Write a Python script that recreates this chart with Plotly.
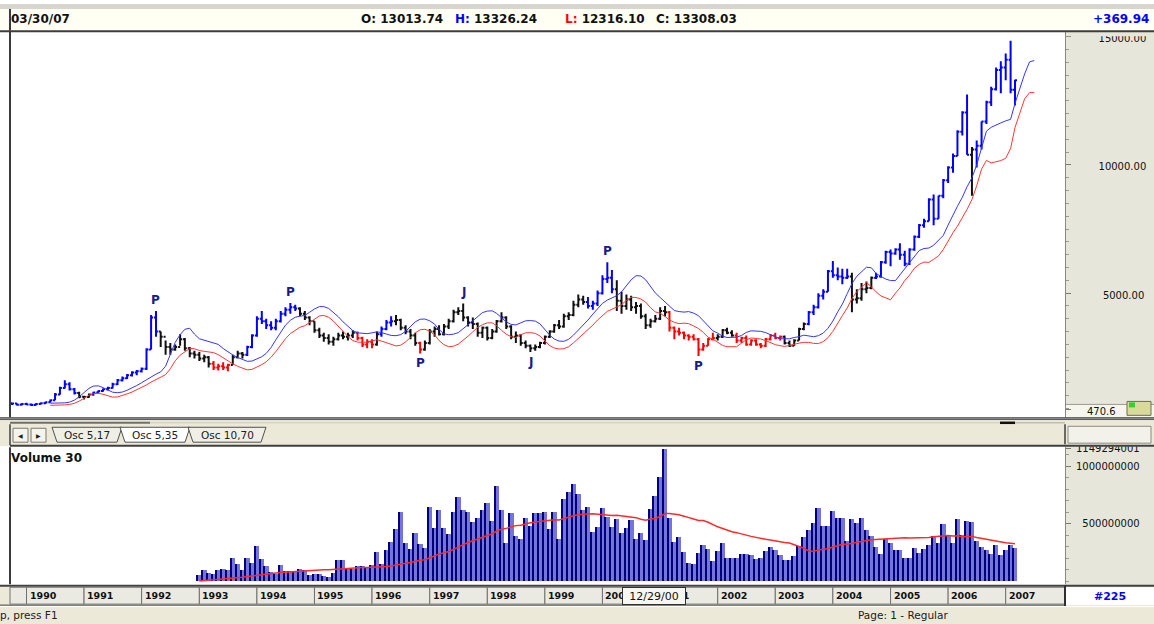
import numpy as np
import pandas as pd
import plotly.graph_objects as go

# ---------------- DATA (monthly bars, Oct 1989 - Mar 2007) ----------------
first_month = "1989-10-01"
first_open = 700

highs = [
    720, 700, 700,                                                              # 1989 Oct-Dec
    720, 690, 700, 730, 760, 850, 1100, 1350, 1600, 1520, 1300, 1150,           # 1990
    1000, 1080, 1150, 1200, 1280, 1350, 1500, 1650, 1750, 1850, 1950, 2000,     # 1991
    2100, 2850, 4150, 4300, 3500, 3150, 3050, 3000, 3400, 3250, 2900, 2750,     # 1992
    2700, 2600, 2550, 2350, 2250, 2300, 2250, 2600, 2750, 2700, 2950, 3400,     # 1993
    4100, 4300, 4000, 3900, 4000, 4300, 4450, 4620, 4550, 4450, 4300, 4100,     # 1994
    3900, 3650, 3450, 3400, 3300, 3450, 3500, 3450, 3550, 3500, 3300, 3200,     # 1995
    3200, 3500, 3700, 3950, 4100, 4150, 4000, 3750, 3600, 3450, 3100, 3150,     # 1996
    3600, 3700, 3750, 3800, 4000, 4350, 4450, 4600, 4100, 4050, 3850, 3700,     # 1997
    3700, 3600, 3950, 4250, 4100, 3750, 3500, 3400, 3150, 3000, 3000, 3100,     # 1998
    3350, 3550, 3800, 3950, 4200, 4250, 4700, 4950, 4900, 4850, 4700, 5100,     # 1999
    5700, 6200, 5900, 5500, 5050, 4950, 4900, 4650, 4600, 4200, 4000, 4150,     # 2000
    4450, 4500, 4300, 3700, 3650, 3500, 3400, 3400, 3250, 3050, 3250, 3450,     # 2001
    3400, 3600, 3650, 3550, 3450, 3300, 3350, 3200, 3200, 3050, 3250, 3400,     # 2002
    3450, 3350, 3350, 3150, 3200, 3650, 3850, 4300, 4550, 5000, 5150, 5900,     # 2003
    6250, 6000, 5950, 5950, 5800, 5150, 5400, 5450, 5650, 5800, 6250, 6650,     # 2004
    6700, 6750, 6950, 6650, 6750, 7250, 7700, 7900, 8700, 8850, 8800, 9450,     # 2005
    9950, 10450, 11350, 12100, 12750, 10700, 10950, 11700, 12500, 13050, 13800, 14050,  # 2006
    14350, 14850, 13326.24,                                                     # 2007 Jan-Mar
]
lows = [
    640, 620, 620,
    640, 600, 620, 660, 680, 730, 820, 1040, 1280, 1200, 1050, 900,
    850, 920, 1000, 1080, 1150, 1200, 1280, 1420, 1550, 1650, 1750, 1800,
    1900, 2000, 2800, 3300, 2900, 2600, 2600, 2750, 2950, 2750, 2500, 2450,
    2350, 2300, 2100, 2000, 1980, 2000, 1950, 2200, 2450, 2450, 2550, 2850,
    3300, 3800, 3600, 3550, 3550, 3850, 4100, 4200, 4300, 4100, 3950, 3750,
    3450, 3250, 3100, 3000, 2950, 3150, 3200, 3150, 3250, 3150, 2900, 2850,
    2850, 2950, 3300, 3550, 3700, 3750, 3550, 3400, 3200, 2950, 2650, 2750,
    3000, 3300, 3350, 3350, 3600, 3850, 4150, 3900, 3700, 3600, 3300, 3250,
    3150, 3200, 3450, 3850, 3600, 3200, 3050, 2950, 2850, 2700, 2750, 2850,
    3000, 3250, 3450, 3600, 3650, 3950, 4100, 4450, 4550, 4400, 4350, 4500,
    4950, 5400, 5000, 4300, 4200, 4350, 4300, 4200, 4000, 3600, 3650, 3850,
    3950, 4100, 3500, 3200, 3350, 3200, 3150, 3150, 2550, 2750, 2950, 3150,
    3150, 3250, 3400, 3300, 3050, 3050, 2950, 2950, 2950, 2850, 2900, 3150,
    3200, 3150, 3000, 2900, 2950, 3150, 3550, 3750, 4150, 4400, 4750, 5050,
    5600, 5500, 5350, 5550, 4250, 4600, 4700, 5000, 5150, 5550, 5600, 6150,
    6050, 6500, 6300, 6050, 6100, 6650, 7150, 7550, 7800, 7650, 7900, 8700,
    9300, 9700, 10350, 11150, 10400, 8800, 9900, 10600, 11600, 12300, 12900, 12800,
    13300, 12800, 12316.10,
]
closes = [
    690, 650, 680,
    660, 640, 680, 700, 740, 820, 1050, 1300, 1450, 1250, 1100, 960,
    950, 1050, 1120, 1180, 1250, 1300, 1450, 1600, 1680, 1800, 1900, 1950,
    2050, 2800, 4050, 3500, 3300, 2900, 2800, 2900, 3200, 2850, 2650, 2600,
    2450, 2500, 2250, 2100, 2150, 2100, 2200, 2500, 2650, 2600, 2900, 3350,
    4000, 3900, 3750, 3650, 3900, 4200, 4350, 4450, 4400, 4200, 4050, 3900,
    3550, 3350, 3250, 3100, 3200, 3350, 3300, 3350, 3450, 3250, 3000, 3100,
    3000, 3400, 3600, 3850, 3900, 3950, 3650, 3500, 3350, 3050, 2800, 3050,
    3500, 3600, 3400, 3700, 3900, 4250, 4300, 4050, 3850, 3800, 3450, 3650,
    3250, 3500, 3900, 4050, 3700, 3300, 3350, 3050, 2950, 2850, 2900, 3050,
    3300, 3500, 3750, 3700, 4100, 4150, 4550, 4750, 4650, 4500, 4600, 5000,
    5550, 5600, 5150, 4700, 4500, 4750, 4450, 4500, 4100, 3750, 3900, 4000,
    4300, 4250, 3650, 3500, 3450, 3350, 3300, 3200, 2800, 2950, 3200, 3250,
    3300, 3550, 3450, 3350, 3150, 3250, 3000, 3150, 3000, 2950, 3200, 3350,
    3250, 3300, 3050, 2950, 3150, 3600, 3800, 4250, 4450, 4900, 5050, 5850,
    5700, 5650, 5600, 5650, 4750, 4800, 5150, 5200, 5600, 5650, 6200, 6600,
    6550, 6700, 6500, 6150, 6700, 7200, 7650, 7800, 8650, 7900, 8800, 9400,
    9900, 10350, 11300, 12050, 10400, 10600, 10750, 11700, 12450, 12950, 13700, 13800,
    14100, 12938.09, 13308.03,
]

# bar colour state (trend highlight): run start month -> state
state_run_starts = ["1989-10", "1990-12", "1991-03", "1992-05", "1993-04", "1993-08", "1993-11",
                    "1994-10", "1995-10", "1996-02", "1996-03", "1996-06", "1996-11", "1996-12",
                    "1999-10", "2000-04", "2001-03", "2002-01", "2002-05", "2003-03", "2003-08",
                    "2004-05", "2004-10", "2006-06", "2006-07"]
state_run_values = ["up", "neutral", "up", "neutral", "down", "neutral", "up",
                    "neutral", "down", "neutral", "up", "neutral", "down", "neutral",
                    "up", "neutral", "down", "neutral", "down", "neutral", "up",
                    "neutral", "up", "neutral", "up"]

# monthly volume in millions, Jan 1993 - Mar 2007
volume_start = "1993-01-01"
volumes_m = [
    52, 95, 72, 66, 95, 109, 95, 204, 147, 95, 201, 158,          # 1993
    302, 195, 129, 80, 66, 144, 89, 86, 89, 103, 95, 52,          # 1994
    60, 60, 43, 37, 72, 187, 187, 109, 109, 129, 129, 124,        # 1995
    138, 253, 152, 267, 339, 454, 604, 330, 282, 420, 325, 290,   # 1996
    641, 460, 621, 460, 411, 598, 733, 618, 598, 512, 546, 621,   # 1997
    678, 520, 822, 621, 330, 589, 391, 368, 549, 477, 589, 589,   # 1998
    604, 454, 604, 362, 713, 770, 842, 756, 621, 647, 425, 474,   # 1999
    635, 555, 468, 535, 420, 463, 532, 362, 420, 353, 627, 741,   # 2000
    900, 1149.294001, 546, 339, 382, 253, 161, 147, 244, 310, 276, 175,  # 2001
    259, 330, 201, 201, 201, 233, 233, 224, 190, 204, 259, 296,   # 2002
    273, 224, 187, 187, 218, 302, 382, 445, 506, 632, 477, 477,   # 2003
    612, 549, 549, 348, 535, 503, 549, 440, 391, 296, 239, 362,   # 2004
    330, 267, 273, 204, 204, 290, 247, 276, 310, 388, 330, 497,   # 2005
    397, 330, 535, 397, 520, 517, 348, 296, 273, 239, 316, 224,   # 2006
    273, 310, 290,                                                # 2007
]

# pivot letters
pivot_months = ["1992-04-01", "1994-08-01", "1996-11-01", "1997-08-01", "1998-10-01", "2000-02-01", "2001-09-01"]
pivot_letters = ["P", "P", "P", "J", "J", "P", "P"]
pivot_sides = ["high", "high", "low", "high", "low", "high", "low"]

year_labels = list(range(1990, 2008))
NB = "\u00a0"
price_tick_values = [470.6, 5000, 10000, 15000]
price_tick_text = ["470.6", NB * 5 + "5000.00", NB * 3 + "\u2009" + "10000.00", NB * 3 + "\u2009" + "15000.00"]
volume_tick_values = [500e6, 1e9, 1149294001]
volume_tick_text = [NB * 2 + "500000000", "1000000000", "1149294001"]
header_date = "03/30/07"
header_o, header_h, header_l, header_c = "13013.74", "13326.24", "12316.10", "13308.03"
header_change = "+369.94"
cursor_date = "2000-12-01"
cursor_label = "12/29/00"
bar_count_label = "#225"

ma_period = 5        # displaced averages of highs / lows
ma_shift = 4
vol_ma_period = 30

# ---------------- derived series ----------------
n = len(closes)
dates = pd.date_range(first_month, periods=n, freq="MS")
opens = np.array([first_open] + closes[:-1], float)
hi_a, lo_a, cl_a = np.array(highs, float), np.array(lows, float), np.array(closes, float)
upper = pd.Series(hi_a).rolling(ma_period).mean()
lower = pd.Series(lo_a).rolling(ma_period).mean()
ma_dates = pd.date_range(first_month, periods=n + ma_shift, freq="MS")[ma_shift:]

run_idx = np.searchsorted(pd.to_datetime(state_run_starts).values, dates.values, side="right") - 1
state = np.array(state_run_values)[run_idx]

vol_dates = pd.date_range(volume_start, periods=len(volumes_m), freq="MS")
vol = pd.Series(volumes_m, index=vol_dates) * 1e6
vol_ma = vol.rolling(vol_ma_period, min_periods=1).sum() / vol_ma_period

# ---------------- geometry ----------------
W, H = 1154, 624
def fx(px): return px / W
def fy(px): return 1 - px / H

PL, PR = 10, 1065
PT, PB = 28, 416
VT, VB = 446, 584

t90 = pd.Timestamp("1990-01-01")
px_jan90 = 26.5
px_per_day = 979.2 / (pd.Timestamp("2007-01-01") - t90).days
x_range = [t90 - pd.Timedelta(days=(px_jan90 - PL) / px_per_day),
           t90 + pd.Timedelta(days=(PR - px_jan90) / px_per_day)]

ppp = 5000 / 129.0
y10k = 162.0
price_range = [10000 - (PB - y10k) * ppp, 10000 + (y10k - PT) * ppp]
vpp = 1e9 / 116.0
v0 = 581.0
vol_range = [-(VB - v0) * vpp, (v0 - VT) * vpp]

# ---------------- traces ----------------
fig = go.Figure()
state_colors = {"up": "#0000FF", "neutral": "#101010", "down": "#FF0000"}
for st, col in state_colors.items():
    m = state == st
    fig.add_trace(go.Ohlc(
        x=dates[m], open=opens[m], high=hi_a[m], low=lo_a[m], close=cl_a[m],
        increasing=dict(line=dict(color=col, width=2)), decreasing=dict(line=dict(color=col, width=2)),
        tickwidth=0.45, hoverinfo="skip", showlegend=False, xaxis="x", yaxis="y"))

fig.add_trace(go.Scatter(x=ma_dates, y=upper.values, mode="lines", line=dict(color="#3535FF", width=1),
                         hoverinfo="skip", showlegend=False, xaxis="x", yaxis="y"))
fig.add_trace(go.Scatter(x=ma_dates, y=lower.values, mode="lines", line=dict(color="#FF3535", width=1),
                         hoverinfo="skip", showlegend=False, xaxis="x", yaxis="y"))

day_ms = 86400000
fig.add_trace(go.Bar(x=vol_dates, y=vol.values, width=30 * day_ms, offset=-15 * day_ms,
                     marker=dict(color="#7474DA", line=dict(width=0)), hoverinfo="skip",
                     showlegend=False, xaxis="x2", yaxis="y2"))
fig.add_trace(go.Bar(x=vol_dates, y=vol.values, width=7 * day_ms, offset=-15 * day_ms,
                     marker=dict(color="#00007A", line=dict(width=0)), hoverinfo="skip",
                     showlegend=False, xaxis="x2", yaxis="y2"))
fig.add_trace(go.Scatter(x=vol_dates, y=vol_ma.values, mode="lines", line=dict(color="#FF2A2A", width=1.5),
                         hoverinfo="skip", showlegend=False, xaxis="x2", yaxis="y2"))

# ---------------- decorations ----------------
shapes = []
def rect(x0, y0, x1, y1, fill, line=None, lw=1, layer="above"):
    shapes.append(dict(type="rect", xref="paper", yref="paper", x0=fx(x0), x1=fx(x1), y0=fy(y1), y1=fy(y0),
                       fillcolor=fill, line=dict(color=line if line else fill, width=lw if line else 0), layer=layer))
def hline(x0, x1, y, color, w=1, layer="above"):
    shapes.append(dict(type="line", xref="paper", yref="paper", x0=fx(x0), x1=fx(x1), y0=fy(y), y1=fy(y),
                       line=dict(color=color, width=w), layer=layer))
def vline(x, y0, y1, color, w=1, layer="above"):
    shapes.append(dict(type="line", xref="paper", yref="paper", x0=fx(x), x1=fx(x), y0=fy(y0), y1=fy(y1),
                       line=dict(color=color, width=w), layer=layer))
def path(pts, fill, line, lw=1):
    d = "M " + " L ".join(f"{fx(a)},{fy(b)}" for a, b in pts) + " Z"
    shapes.append(dict(type="path", xref="paper", yref="paper", path=d, fillcolor=fill,
                       line=dict(color=line, width=lw), layer="above"))

PANEL = "#E6E6DA"
FACE = "#ECE9D8"
rect(PR, PT, W, PB, PANEL, layer="below")
rect(PR, VT - 2, W, VB + 1, PANEL, layer="below")
rect(1066, 403, W, 416, "#F6F6EE", layer="below")
vline(PR + 0.5, PT, PB, "#8A8A80")
vline(PR + 0.5, VT, VB, "#8A8A80")
# top of the right panel hides the upper part of the first label (as in the source)
rect(PR + 1, 27, W, 32.5, PANEL)
# header
rect(0, 0, W, 5, "#D6D6CE")
rect(0, 5, W, 27, "#FFFFF4")
hline(0, W, 27.5, "#3C3C3C", 2)
vline(10, 5, 27, "#3C3C3C", 2)
vline(10, PT, PB, "#3C3C3C", 2)
vline(10, VT, VB, "#3C3C3C", 2)
# "470.6" icon
hline(1066, W, 403, "#9A9A90", 1)
rect(1127, 400, 1151, 414, "#D9D99A", "#6E6E50", 1)
rect(1129, 401, 1135, 406, "#2FD22F")
# separator under price panel + scroller row
rect(0, 416, W, 419, "#404040")
hline(0, W, 417.5, "#E8E8E8", 0.6)
rect(0, 419, W, VT - 1, FACE)
hline(PL, 150, 421.5, "#707070", 2)
hline(150, 1000, 421.5, "#C8C8C0", 1)
hline(1000, 1015, 421.5, "#101010", 2.5)
hline(1015, PR, 421.5, "#BDBDB5", 1.5)
vline(PR, 423, 443, "#404040", 1.5)
rect(1068, 425, 1151, 442, "#F2F2EA", "#8A8A80", 1)
hline(PL, W, VT - 1.5, "#404040", 2)
vline(10, 423, 444, "#404040", 1.5)
rect(13, 427, 28, 441, "#F4F3EC", "#7A7A70", 1)
rect(31, 427, 46, 441, "#F4F3EC", "#7A7A70", 1)
tabs = [(52, 122, "Osc 5,17", "#F0EFE6"), (120, 190, "Osc 5,35", "#FFFFFF"), (188, 266, "Osc 10,70", "#F0EFE6")]
for x0, x1, _, fc in tabs:
    path([(x0, 426), (x0 + 5, 441), (x1 - 5, 441), (x1, 426)], fc, "#505050", 1)
# date row
rect(0, 585, W, 606, FACE)
hline(0, W, 585.5, "#404040", 2)
hline(0, PR, 605, "#404040", 1)
rect(PL, 587, px_jan90, 604, "#EAEAE2", "#707070", 1)
for y in year_labels:
    x_end = pd.Timestamp(f"{y + 1}-01-01") if y < year_labels[-1] else x_range[1]
    shapes.append(dict(type="rect", xref="x", yref="paper", x0=pd.Timestamp(f"{y}-01-01"), x1=x_end,
                       y0=fy(604), y1=fy(587), fillcolor="#EAEAE2", line=dict(color="#707070", width=1),
                       layer="above"))
vline(PR, 585, 606, "#303030", 2)
rect(PR + 1, 587, W, 605, "#FFFFFF")
rect(0, 606, W, H, FACE)
hline(0, W, 606.5, "#FFFFFF", 1)

annotations = []
def text(x, y, s, size=11, color="#111111", bold=False, anchor="left", family="DejaVu Sans", **kw):
    annotations.append(dict(xref="paper", yref="paper", x=fx(x), y=fy(y), text=(f"<b>{s}</b>" if bold else s),
                            showarrow=False, xanchor=anchor, yanchor="middle",
                            font=dict(family=family, size=size, color=color), **kw))

text(9, 15, header_date, 12, bold=True)
text(359, 15, "O: " + header_o, 12, bold=True)
text(453, 15, "<span style='color:#0000FF'>H:</span> " + header_h, 12, bold=True)
text(563, 15, "<span style='color:#FF0000'>L:</span> " + header_l, 12, bold=True)
text(654, 15, "C: " + header_c, 12, bold=True)
text(1151, 15, header_change, 12, color="#0000FF", bold=True, anchor="right")
text(20.5, 434, "◀", 6, color="#202020", anchor="center")
text(38.5, 434, "▶", 6, color="#202020", anchor="center")
for x0, x1, lab, _ in tabs:
    text((x0 + x1) / 2, 434, lab, 10.5, color="#202020", anchor="center")
text(9, 457, "Volume 30", 12, bold=True)
for y in year_labels:
    annotations.append(dict(xref="x", yref="paper", x=pd.Timestamp(f"{y}-01-01"), y=fy(595.5), text=f"<b>{y}</b>",
                            showarrow=False, xanchor="left", yanchor="middle", xshift=1,
                            font=dict(family="DejaVu Sans", size=9.5, color="#111111")))
annotations.append(dict(xref="x", yref="paper", x=pd.Timestamp(cursor_date), y=fy(595.5), text=cursor_label,
                        showarrow=False, xanchor="center", yanchor="middle", width=60, height=14, xshift=-1,
                        bgcolor="#F7F7F2", bordercolor="#303030", borderwidth=1, borderpad=1,
                        font=dict(family="DejaVu Sans", size=11, color="#111111")))
text(1110, 596, bar_count_label, 11, color="#0000FF", bold=True, anchor="center")
text(60, 615, "For Help, press F1", 10.5, color="#202020", anchor="right")
text(856, 615, "Page: 1 - Regular", 10.5, color="#202020")
for mo, letter, side in zip(pivot_months, pivot_letters, pivot_sides):
    idx = dates.get_loc(pd.Timestamp(mo))
    yv = highs[idx] if side == "high" else lows[idx]
    annotations.append(dict(xref="x", yref="y", x=dates[idx], y=yv, text=f"<b>{letter}</b>", showarrow=False,
                            xanchor="center", yanchor="middle", yshift=(11 if side == "high" else -10),
                            font=dict(family="DejaVu Sans", size=12, color="#1A1A8A")))

fig.update_layout(
    width=W, height=H, autosize=False,
    margin=dict(l=0, r=0, t=0, b=0),
    paper_bgcolor="#FFFFFF", plot_bgcolor="#FFFFFF",
    showlegend=False, bargap=0, barmode="overlay",
    shapes=shapes, annotations=annotations,
    xaxis=dict(domain=[fx(PL), fx(PR)], range=x_range, anchor="y", type="date", showticklabels=False,
               showgrid=False, zeroline=False, ticks="", showline=False, rangeslider=dict(visible=False)),
    yaxis=dict(domain=[fy(PB), fy(PT)], range=price_range, anchor="x", side="right",
               tickmode="array", tickvals=price_tick_values, ticktext=price_tick_text,
               ticks="outside", ticklen=5, tickcolor="#7A7A70", showgrid=False, zeroline=False,
               showline=False, tickfont=dict(family="DejaVu Sans", size=10, color="#111111"),
               ticklabelstandoff=14, ticklabelshift=2,
               minor=dict(tickmode="linear", tick0=0, dtick=500, ticks="outside", ticklen=3,
                          tickcolor="#9A9A90", showgrid=False)),
    xaxis2=dict(domain=[fx(PL), fx(PR)], range=x_range, anchor="y2", type="date", showticklabels=False,
                showgrid=False, zeroline=False, ticks="", showline=False, rangeslider=dict(visible=False)),
    yaxis2=dict(domain=[fy(VB), fy(VT)], range=vol_range, anchor="x2", side="right",
                tickmode="array", tickvals=volume_tick_values, ticktext=volume_tick_text,
                ticks="outside", ticklen=5, tickcolor="#7A7A70", showgrid=False, zeroline=False,
                showline=False, tickfont=dict(family="DejaVu Sans", size=10, color="#111111"),
                ticklabelstandoff=3,
                minor=dict(tickmode="linear", tick0=0, dtick=100e6, ticks="outside", ticklen=3,
                           tickcolor="#9A9A90", showgrid=False)),
)

fig.write_html("out.html", config={"displayModeBar": False},
               post_script="document.body.style.margin='0';document.body.style.overflow='hidden';")
